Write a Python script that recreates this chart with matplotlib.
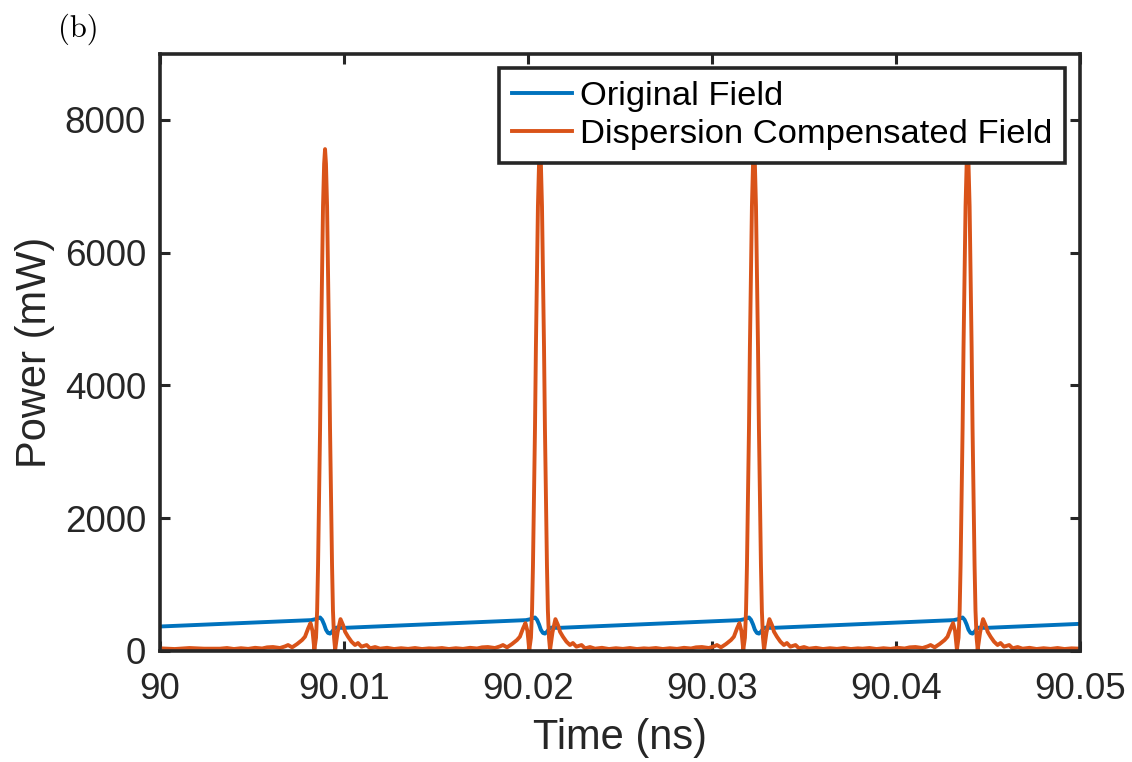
import numpy as np
import matplotlib
matplotlib.use("Agg")
import matplotlib.pyplot as plt

# ---------------- data ----------------
# pulse centre times (ns)
pulse_centers = [90.00897, 90.02065, 90.03228, 90.04389]

# dispersion-compensated pulse profile: offset from centre (ps) and power (mW)
orange_offset_ps = [-5.71, -5.33, -4.95, -4.57, -4.18, -3.80, -3.42, -3.15, -2.83,
                    -2.45, -2.17, -2.01, -1.79, -1.52, -1.25, -1.09, -0.92, -0.79,
                    -0.68, -0.58, -0.49, -0.43, -0.38, -0.33, -0.27, -0.22, -0.16,
                    -0.11, -0.05, 0.0, 0.05, 0.11, 0.16, 0.22, 0.27, 0.33, 0.38,
                    0.43, 0.49, 0.55, 0.68, 0.84, 0.98, 1.09, 1.25, 1.44, 1.63,
                    1.79, 1.98, 2.26, 2.45, 2.72, 2.99, 3.37, 3.75, 4.13, 4.51,
                    4.89, 5.27, 5.65]
orange_power = [35, 45, 30, 42, 32, 48, 38, 55, 60,
                45, 70, 90, 55, 105, 165, 215, 340, 420,
                300, 20, 200, 610, 1290, 2230, 3360, 4580, 5730,
                6700, 7340, 7560, 7340, 6700, 5730, 4580, 3360, 2230, 1290,
                610, 200, 20, 280, 480, 390, 290, 215, 140, 90,
                120, 65, 90, 40, 60, 35, 48, 30, 42, 32,
                45, 30, 40]
# orange baseline before the first pulse and after the last one
orange_edge_t = [90.0, 90.0008, 90.0016, 90.0024]
orange_edge_p = [40, 30, 45, 35]
orange_end_t = [90.05]
orange_end_p = [35]

# original field: wiggle around each pulse (offset ps, power mW)
blue_offset_ps = [-0.76, -0.54, -0.38, -0.27, -0.16, -0.05, 0.05, 0.16, 0.27,
                  0.38, 0.49, 0.60, 0.76, 0.98]
blue_power = [465, 478, 495, 505, 470, 400, 320, 272, 262,
              290, 330, 352, 350, 348]
blue_start = (90.0, 369)
blue_end = (90.05, 409)

xtick_vals = [90.0, 90.01, 90.02, 90.03, 90.04, 90.05]
xtick_labels = ["90", "90.01", "90.02", "90.03", "90.04", "90.05"]
ytick_vals = [0, 2000, 4000, 6000, 8000]

BLUE = "#0072BD"
ORANGE = "#D95319"
DARK = "#262626"

# ---------------- assemble curves ----------------
ot = list(orange_edge_t)
op = list(orange_edge_p)
bt = [blue_start[0]]
bp = [blue_start[1]]
for c in pulse_centers:
    ot += [c + o * 1e-3 for o in orange_offset_ps]
    op += orange_power
    bt += [c + o * 1e-3 for o in blue_offset_ps]
    bp += blue_power
ot += orange_end_t
op += orange_end_p
bt.append(blue_end[0])
bp.append(blue_end[1])

# ---------------- figure ----------------
plt.rcParams['font.family'] = ['Liberation Sans', 'DejaVu Sans']
fig = plt.figure(figsize=(11.32, 7.62), dpi=100)
ax = fig.add_axes([160 / 1132, 1 - 651 / 762, 920 / 1132, (651 - 53.5) / 762])

ax.plot(bt, bp, color=BLUE, lw=2.8, label="Original Field", solid_joinstyle='round')
ax.plot(ot, op, color=ORANGE, lw=2.8, label="Dispersion Compensated Field",
        solid_joinstyle='round')

ax.set_xlim(90.0, 90.05)
ax.set_ylim(0, 9000)
ax.set_xticks(xtick_vals)
ax.set_xticklabels(xtick_labels)
ax.set_yticks(ytick_vals)

for s in ax.spines.values():
    s.set_linewidth(2.6)
    s.set_color(DARK)
ax.tick_params(direction='in', length=7, width=2.2, color=DARK, top=True, right=True,
               labelsize=26.5, labelcolor=DARK)
ax.tick_params(axis='x', pad=15)
ax.tick_params(axis='y', pad=10)

ax.set_xlabel("Time (ns)", fontsize=30, color=DARK, labelpad=8)
ax.set_ylabel("Power (mW)", fontsize=30, color=DARK, labelpad=7)

leg = ax.legend(loc='upper right', bbox_to_anchor=(1065 / 1132, 1 - 68 / 762),
                bbox_transform=fig.transFigure, borderaxespad=0, fontsize=24.8,
                handlelength=1.74, handletextpad=0.23, labelspacing=0.2,
                borderpad=0.38, fancybox=False, framealpha=1)
leg.get_frame().set_edgecolor(DARK)
leg.get_frame().set_linewidth(2.6)
for t in leg.get_texts():
    t.set_color('black')

fig.text(78.5 / 1132, 1 - 29 / 762, "(b)", fontfamily='cmr10', fontsize=22,
         ha='center', va='center')

fig.savefig("out.png", dpi=100)
